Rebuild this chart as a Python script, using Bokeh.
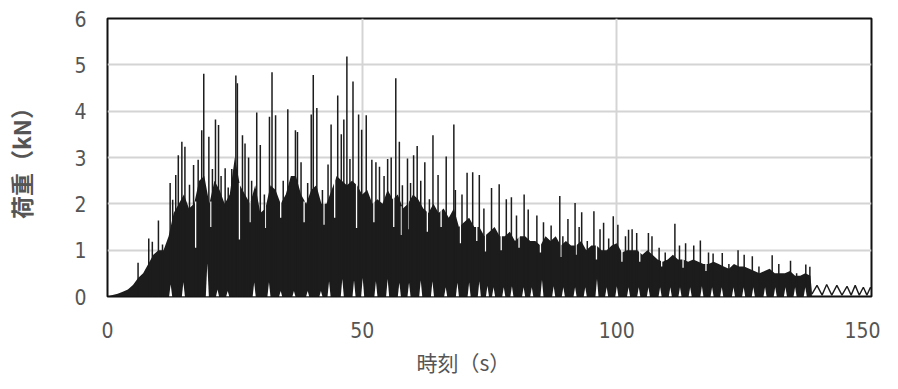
from bokeh.plotting import figure
from bokeh.models import Range1d, Title
from bokeh.embed import file_html
from bokeh.resources import INLINE

# ---- data ----
# tall spikes of the load record (time s, peak kN)
spike_t = [6.0, 8.1, 8.8, 10.0, 10.8, 12.3, 12.8, 13.4, 13.9, 14.6, 15.2, 16.1, 16.9, 17.8,
           18.5, 18.9, 19.9, 20.6, 21.2, 21.8, 22.3, 23.1, 23.7, 24.4, 25.2, 25.5, 26.5,
           27.0, 27.7, 28.3, 29.3, 30.0, 30.8, 31.8, 32.3, 33.0, 34.5, 35.4, 36.0, 36.9,
           37.3, 38.0, 39.3, 40.0, 40.4, 41.1, 42.2, 43.3, 43.9, 45.2, 45.9, 46.4, 47.0,
           47.6, 48.2, 49.3, 49.9, 50.8, 51.9, 52.7, 53.4, 54.3, 55.0, 55.7, 56.6, 57.3,
           57.9, 58.9, 59.5, 60.1, 60.8, 61.5, 62.3, 63.2, 63.9, 64.9, 66.5, 68.0, 68.3,
           69.6, 70.6, 71.7, 73.0, 73.9, 75.4, 76.9, 78.3, 79.3, 80.3, 81.8, 82.6, 84.3,
           85.6, 87.1, 88.8, 89.4, 90.4, 91.8, 92.6, 93.1, 94.2, 95.5, 96.7, 97.4, 98.4,
           99.3, 100.2, 101.7, 102.3, 103.0, 103.9, 106.2, 106.9, 108.3, 109.5, 111.4,
           112.3, 113.5, 115.1, 116.4, 118.0, 118.9, 120.7, 122.0, 123.8, 125.0, 126.6,
           127.9, 130.5, 131.8, 134.1, 135.3, 137.1, 137.9]
spike_v = [0.73, 1.25, 1.18, 1.64, 1.12, 2.45, 2.09, 2.62, 3.05, 3.34, 3.23, 2.41, 2.84, 2.95,
           3.59, 4.81, 3.45, 2.75, 3.82, 3.70, 2.60, 2.77, 2.35, 2.75, 4.77, 4.60, 3.48,
           3.30, 3.00, 2.50, 3.97, 3.27, 2.20, 3.88, 4.84, 3.91, 2.50, 4.04, 2.50, 3.59,
           3.55, 2.90, 2.45, 3.93, 4.78, 4.07, 2.30, 2.85, 3.71, 4.34, 3.50, 3.82, 5.18,
           2.97, 4.64, 3.93, 3.60, 3.91, 2.95, 2.90, 2.80, 2.60, 2.97, 3.00, 4.71, 3.34,
           2.40, 2.98, 2.45, 3.05, 3.25, 2.50, 2.90, 2.10, 3.48, 2.62, 3.02, 3.71, 2.30,
           2.20, 2.67, 2.68, 2.62, 1.90, 2.34, 2.42, 2.10, 2.14, 1.75, 2.20, 1.88, 1.75,
           1.60, 1.53, 2.17, 1.30, 1.67, 2.02, 1.50, 1.82, 1.20, 1.84, 1.45, 1.59, 1.25,
           1.73, 1.55, 1.30, 1.44, 1.45, 1.37, 1.37, 1.30, 1.05, 0.95, 1.57,
           1.10, 1.15, 1.10, 1.21, 0.95, 0.93, 0.94, 0.70, 1.00, 0.90, 0.87,
           0.65, 0.89, 0.70, 0.77, 0.50, 0.69, 0.64]

# dense (solid) part of the record: upper edge, one reading per second (kN)
body_t = list(range(0, 139)) + [138.3]
body_v = [0.0, 0.03, 0.06, 0.1, 0.15, 0.25, 0.4, 0.5, 0.7, 0.9,
          1.0, 1.0, 1.3, 1.8, 2.0, 2.2, 1.9, 2.0, 2.5, 2.6,
          2.0, 2.5, 2.3, 2.0, 2.2, 3.0, 2.4, 2.2, 2.0, 2.4,
          1.8, 1.9, 2.4, 2.3, 2.0, 2.2, 2.6, 2.6, 2.2, 2.0,
          2.3, 2.4, 2.0, 2.0, 2.3, 2.6, 2.5, 2.4, 2.5, 2.4,
          2.2, 2.3, 2.0, 2.1, 2.0, 2.3, 2.1, 2.2, 1.9, 2.0,
          2.2, 2.1, 1.9, 1.8, 2.0, 1.8, 1.9, 1.7, 1.9, 1.5,
          1.6, 1.7, 1.5, 1.5, 1.3, 1.4, 1.5, 1.3, 1.3, 1.4,
          1.2, 1.3, 1.3, 1.2, 1.2, 1.1, 1.3, 1.2, 1.3, 1.1,
          1.2, 1.1, 1.1, 1.2, 1.0, 1.1, 1.1, 1.0, 1.0, 1.1,
          1.15, 0.95, 1.0, 1.0, 1.0, 0.9, 1.0, 0.9, 0.8, 0.75,
          0.8, 0.9, 0.8, 0.8, 0.75, 0.8, 0.75, 0.7, 0.7, 0.75,
          0.7, 0.65, 0.6, 0.7, 0.65, 0.65, 0.6, 0.55, 0.5, 0.55,
          0.6, 0.5, 0.5, 0.5, 0.55, 0.45, 0.45, 0.5, 0.45, 0.1]

# narrow white gaps reaching down into the dense part (time s, lowest kN)
gap_t = [17.3, 20.3, 25.9, 28.0, 31.0, 34.0, 38.6, 42.5, 44.6, 48.9, 52.3, 56.2, 57.7, 59.0,
         62.8, 65.5, 69.3, 72.5, 74.2, 77.3, 80.8, 85.0, 89.0, 92.0, 96.0, 101.0, 104.5,
         108.8, 113.0, 117.5]
gap_v = [1.05, 1.5, 1.23, 1.6, 1.48, 1.7, 1.6, 1.55, 1.7, 1.48, 1.6, 1.5, 1.33, 1.45,
         1.4, 1.5, 1.15, 1.2, 0.97, 1.0, 1.05, 0.95, 0.85, 0.9, 0.8, 0.75, 0.75,
         0.65, 0.62, 0.55]

# lower minima of the record (white notches above the axis): time s, kN
notch_t = [12.4, 14.9, 19.6, 21.6, 23.6, 28.8, 31.7, 34.0, 36.6, 39.3, 41.9, 43.5, 46.1, 48.4,
           50.1, 52.7, 55.0, 57.3, 59.2, 61.5, 63.8, 66.4, 68.7, 71.0, 73.0, 74.6, 75.8,
           77.8, 79.4, 81.7, 83.3, 85.3, 87.6, 89.5, 91.8, 93.8, 96.1, 98.0, 100.0, 102.3,
           104.3, 106.2, 108.5, 110.5, 112.4, 114.4, 116.7, 118.7, 120.6, 122.9, 124.9,
           126.8, 129.1, 131.1, 133.1, 135.0, 137.0]
notch_v = [0.26, 0.31, 0.72, 0.15, 0.12, 0.30, 0.31, 0.12, 0.12, 0.12, 0.12, 0.33, 0.38, 0.35,
           0.40, 0.33, 0.38, 0.30, 0.30, 0.35, 0.33, 0.20, 0.30, 0.30, 0.33, 0.23, 0.2,
           0.2, 0.22, 0.2, 0.2, 0.36, 0.22, 0.2, 0.2, 0.2, 0.38, 0.2, 0.22, 0.2,
           0.2, 0.2, 0.2, 0.2, 0.2, 0.2, 0.22, 0.2, 0.2, 0.2, 0.2,
           0.2, 0.2, 0.2, 0.2, 0.2, 0.2]

# free vibration after the test (time s, kN)
tail_t = [138.3, 139.3, 140.3, 141.2, 142.2, 143.2, 144.2, 145.2, 146.0, 146.8, 147.6, 148.4,
          149.1, 149.8, 150.0]
tail_v = [0.05, 0.24, 0.03, 0.26, 0.03, 0.24, 0.03, 0.22, 0.03, 0.24, 0.03, 0.20, 0.03, 0.20,
          0.15]

x_ticks = [0, 50, 100, 150]
y_ticks = [0, 1, 2, 3, 4, 5, 6]
x_title = "時刻（s）"
y_title = "荷重（kN）"

TICK_FONT = "DejaVu Sans Condensed, Liberation Sans Narrow, Liberation Sans, sans-serif"
CJK_FONT = "Noto Sans CJK JP"
INK = "#1c1c1c"

# ---- figure ----
p = figure(width=880, height=380, output_backend="svg", toolbar_location=None,
           x_range=Range1d(0, 150), y_range=Range1d(0, 6),
           min_border_left=107, min_border_right=9, min_border_top=18, min_border_bottom=82)
p.background_fill_color = "white"
p.border_fill_color = "white"
p.outline_line_color = "#111111"
p.outline_line_width = 2

p.xaxis.ticker = x_ticks
p.yaxis.ticker = y_ticks
for ax in (p.xaxis, p.yaxis):
    ax.axis_line_color = None
    ax.major_tick_line_color = None
    ax.minor_tick_line_color = None
    ax.major_label_text_font = TICK_FONT
    ax.major_label_text_font_size = "21px"
    ax.major_label_text_color = "#555555"
p.xaxis.major_label_standoff = 19
p.yaxis.major_label_standoff = 15

p.yaxis.axis_label = y_title
p.yaxis.axis_label_standoff = 33
p.yaxis.axis_label_text_font = CJK_FONT
p.yaxis.axis_label_text_font_size = "23px"
p.yaxis.axis_label_text_font_style = "bold"
p.yaxis.axis_label_text_color = "#555555"

p.xgrid.grid_line_color = "#d4d4d4"
p.ygrid.grid_line_color = "#d4d4d4"
p.xgrid.grid_line_width = 2
p.ygrid.grid_line_width = 2

p.varea(x=body_t, y1=0, y2=body_v, fill_color=INK)
gap_top = [body_v[round(t)] + 0.05 for t in gap_t]
p.segment(x0=gap_t, y0=gap_v, x1=gap_t, y1=gap_top, line_color="white", line_width=1.3)
p.segment(x0=spike_t, y0=[0] * len(spike_t), x1=spike_t, y1=spike_v,
          line_color=INK, line_width=1.5)

nxs = [[t - 0.3, t, t + 0.3] for t in notch_t]
nys = [[0, v, 0] for v in notch_v]
p.patches(xs=nxs, ys=nys, fill_color="white", line_color=None)

p.line(tail_t, tail_v, line_color=INK, line_width=1.4)

p.add_layout(Title(text=x_title, align="left", offset=309, standoff=8,
                   text_font=CJK_FONT, text_font_size="21px", text_font_style="normal",
                   text_color="#555555"), "below")

open("out.html", "w").write(file_html(p, INLINE))
